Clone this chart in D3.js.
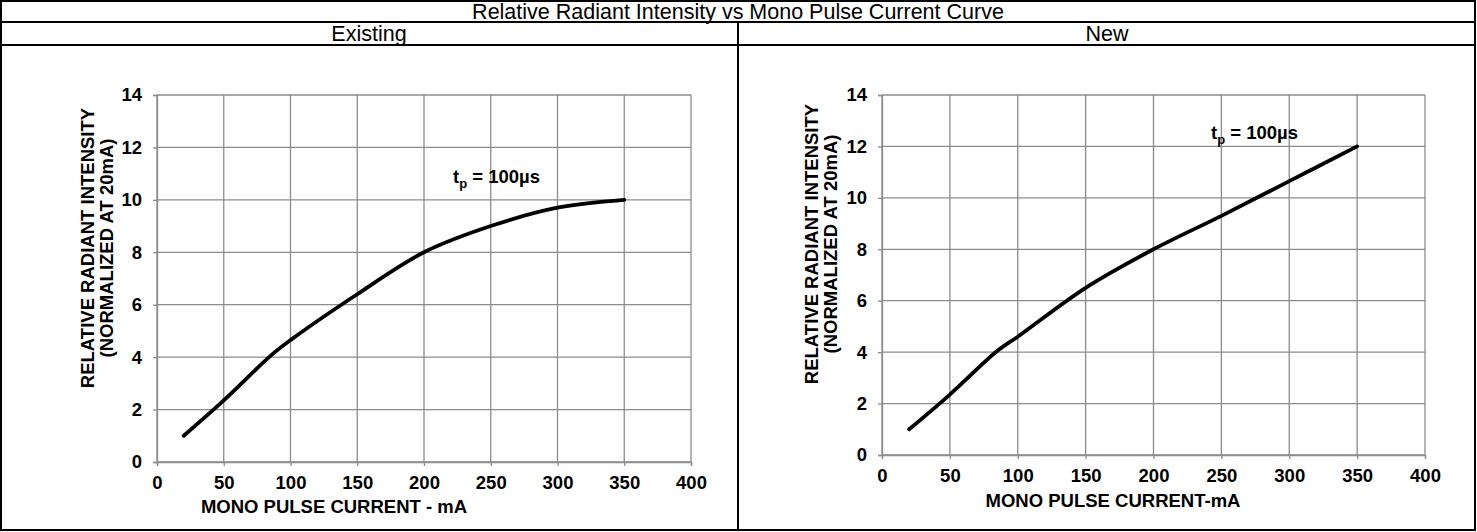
<!DOCTYPE html>
<html>
<head>
<meta charset="utf-8">
<script src="https://cdn.jsdelivr.net/npm/d3@7"></script>
<style>
  body { margin: 0; background: #fff; }
  svg { display: block; font-family: "Liberation Sans", Arial, sans-serif; }
  .tick text { font-weight: bold; font-size: 18.5px; fill: #000; }
</style>
</head>
<body>
<svg id="canvas" width="1477" height="532"></svg>
<script>
const chartTitle = 'Relative Radiant Intensity vs Mono Pulse Current Curve';
const panelNames = ['Existing', 'New'];

const xTicks = [0, 50, 100, 150, 200, 250, 300, 350, 400];
const yTicks = [0, 2, 4, 6, 8, 10, 12, 14];

// mono pulse current (mA) and relative radiant intensity
const existingCurrent = [20, 50, 85, 100, 150, 200, 250, 300, 350];
const existingIntensity = [1.0, 2.35, 4.05, 4.65, 6.4, 8.0, 9.0, 9.7, 10.0];
const newCurrent = [20, 50, 85, 100, 150, 200, 250, 300, 350];
const newIntensity = [1.0, 2.35, 4.05, 4.6, 6.5, 8.0, 9.3, 10.65, 12.0];

const yTitleLines = ['RELATIVE RADIANT INTENSITY', '(NORMALIZED AT 20mA)'];
const xTitles = ['MONO PULSE CURRENT - mA', 'MONO PULSE CURRENT-mA'];

const canvas = d3.select('#canvas');

// table frame
const frame = canvas.append('g')
frame.append('rect')
    .attr('x', 1).attr('y', 1)
    .attr('width', 1474).attr('height', 529)
    .attr('fill', 'none').attr('stroke', '#000').attr('stroke-width', 2);
frame.append('line').attr('x1', 1).attr('x2', 1475).attr('y1', 22).attr('y2', 22)
    .attr('stroke', '#000').attr('stroke-width', 2);
frame.append('line').attr('x1', 1).attr('x2', 1475).attr('y1', 45).attr('y2', 45)
    .attr('stroke', '#000').attr('stroke-width', 2);
frame.append('line').attr('x1', 738).attr('x2', 738).attr('y1', 22).attr('y2', 530)
    .attr('stroke', '#000').attr('stroke-width', 2);

frame.append('text')
    .attr('x', 738).attr('y', 18.5)
    .attr('text-anchor', 'middle')
    .style('font-size', '21.5px')
    .text(chartTitle);

frame.selectAll('.panel-name')
    .data(panelNames)
    .enter()
    .append('text')
    .attr('class', 'panel-name')
    .attr('x', (d, i) => i === 0 ? 369 : 1107)
    .attr('y', 41)
    .attr('text-anchor', 'middle')
    .style('font-size', '21.5px')
    .text(d => d);

const drawPanel = (opts) => {
    const xScale = d3.scaleLinear().domain([0, 400]).range([opts.left, opts.right]);
    const yScale = d3.scaleLinear().domain([0, 14]).range([opts.bottom, opts.top]);
    const g = canvas.append('g');

    // grid
    g.selectAll('.vgrid')
        .data(xTicks)
        .enter()
        .append('line')
        .attr('x1', d => xScale(d)).attr('x2', d => xScale(d))
        .attr('y1', yScale(0)).attr('y2', yScale(14))
        .attr('stroke', '#8c8c8c').attr('stroke-width', 1.3);
    g.selectAll('.hgrid')
        .data(yTicks)
        .enter()
        .append('line')
        .attr('x1', xScale(0)).attr('x2', xScale(400))
        .attr('y1', d => yScale(d)).attr('y2', d => yScale(d))
        .attr('stroke', '#8c8c8c').attr('stroke-width', 1.3);

    const xAxis = d3.axisBottom(xScale).tickValues(xTicks).tickSize(4).tickPadding(10);
    const yAxis = d3.axisLeft(yScale).tickValues(yTicks).tickSize(4).tickPadding(11);

    const gx = g.append('g')
        .attr('transform', `translate(0,${yScale(0)})`)
        .call(xAxis);
    const gy = g.append('g')
        .attr('transform', `translate(${xScale(0)},0)`)
        .call(yAxis);
    [gx, gy].forEach(a => {
        a.select('.domain').attr('stroke', '#8c8c8c').attr('stroke-width', 1.3);
        a.selectAll('.tick line').attr('stroke', '#8c8c8c').attr('stroke-width', 1.3);
    });

    // axis titles
    g.append('text')
        .attr('x', opts.xTitleX).attr('y', opts.xTitleY)
        .attr('text-anchor', 'middle')
        .style('font-weight', 'bold').style('font-size', '18.5px')
        .text(opts.xTitle);

    g.selectAll('.ytitle')
        .data(yTitleLines)
        .enter()
        .append('text')
        .attr('transform', (d, i) => `translate(${opts.yTitleX + i * 19},${opts.yTitleY}) rotate(-90)`)
        .attr('text-anchor', 'middle')
        .attr('dy', '0.35em')
        .style('font-weight', 'bold').style('font-size', '18.5px')
        .text(d => d);

    // curve
    const points = opts.current.map((c, i) => [c, opts.intensity[i]]);
    const line = d3.line()
        .x(d => xScale(d[0]))
        .y(d => yScale(d[1]))
        .curve(d3.curveCatmullRom.alpha(0.5));
    g.append('path')
        .datum(points)
        .attr('d', line)
        .attr('fill', 'none')
        .attr('stroke', '#000')
        .attr('stroke-width', 3.8)
        .attr('stroke-linecap', 'round');

    // pulse width note
    const note = g.append('text')
        .attr('x', opts.noteX).attr('y', opts.noteY)
        .style('font-weight', 'bold').style('font-size', '18.5px');
    note.append('tspan').text('t');
    note.append('tspan').attr('dy', 5).style('font-size', '13px').text('p');
    note.append('tspan').attr('dy', -5).text(' = 100µs');
};

drawPanel({
    left: 157, right: 691, top: 95, bottom: 462,
    current: existingCurrent, intensity: existingIntensity,
    xTitle: xTitles[0], xTitleX: 334, xTitleY: 513,
    yTitleX: 88, yTitleY: 248,
    noteX: 453, noteY: 183
});

drawPanel({
    left: 882, right: 1425, top: 95, bottom: 455,
    current: newCurrent, intensity: newIntensity,
    xTitle: xTitles[1], xTitleX: 1113, xTitleY: 507,
    yTitleX: 812, yTitleY: 244,
    noteX: 1211, noteY: 139
});
</script>
</body>
</html>
